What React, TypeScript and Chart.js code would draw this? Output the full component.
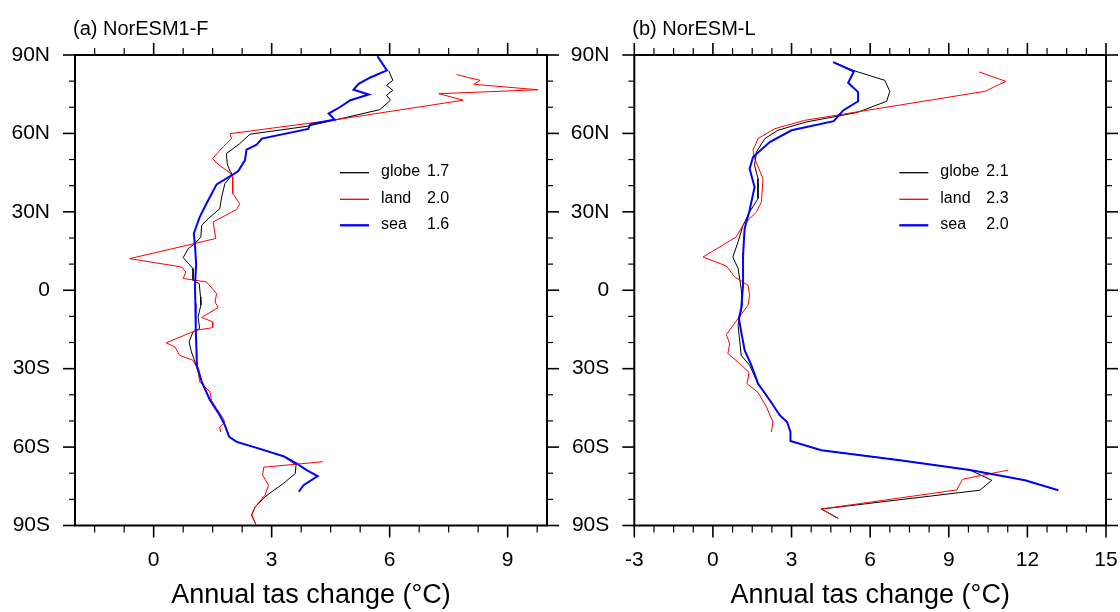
import React, { useEffect, useRef } from "react";
import { Chart, registerables } from "chart.js";

Chart.register(...registerables);

const FONT = "'Liberation Sans', Arial, Helvetica, sans-serif";

// ---------- axis ticks / labels ----------
const latTickValues = [-90, -60, -30, 0, 30, 60, 90];
const latTickLabels = ["90S", "60S", "30S", "0", "30N", "60N", "90N"];
const aXTicks = [0, 3, 6, 9];
const bXTicks = [-3, 0, 3, 6, 9, 12, 15];
const xTitle = "Annual tas change (°C)";

// ---------- legend ----------
const seriesNames = ["globe", "land", "sea"];
const seriesColors = ["#000000", "#ff0000", "#0000ff"];
const seriesWidths = [1, 1, 2];
const aMeans = ["1.7", "2.0", "1.6"];
const bMeans = ["2.1", "2.3", "2.0"];

// ---------- (a) NorESM1-F ----------
const aGlobeLat = [83.9, 80.3, 78.4, 76.5, 74.6, 72.7, 69.1, 65.3, 62.7, 59.7, 56.1, 52.3, 48.4, 45.6, 44.2, 40.8, 35.7, 31.2, 27.4, 24.9, 20.4, 17.9, 15.9, 12.5, 8.3, 3.8, 2.5, -2.5, -5.7, -10.2, -14.7, -15.9, -19.8, -23.6, -27.4, -32, -35, -42, -47.8, -51.6, -56.1, -58, -60.3, -63.5, -66.9, -70.1, -73.9, -79, -82.9, -86, -89.6];
const aGlobeVal = [5.98, 6.08, 5.92, 6.08, 5.92, 6.02, 5.75, 4.66, 3.89, 2.45, 2.19, 1.85, 1.87, 1.94, 2.0, 1.81, 1.73, 1.68, 1.39, 1.22, 1.2, 1.05, 0.88, 0.75, 1.0, 1.0, 1.16, 1.19, 1.2, 1.13, 1.17, 1.0, 0.9, 0.96, 1.05, 1.15, 1.22, 1.43, 1.68, 1.81, 1.92, 2.11, 2.62, 3.3, 3.62, 3.6, 3.3, 2.83, 2.58, 2.49, 2.6];

const aLandLat = [82.5, 80.3, 78.8, 76.7, 75.2, 72.7, 65.3, 59.9, 58.0, 53.5, 50.4, 48.4, 44.9, 43.3, 37.0, 33.1, 30.9, 26.1, 19.8, 17.9, 12.1, 8.9, 7.0, 4.5, 3.2, -1.3, -4.5, -6.6, -10.4, -12.1, -14.3, -15.3, -20.1, -21.7, -24.9, -26.8, -29.3, -31.2, -35.1, -36.3, -38.9, -42.1, -45.2, -49.1, -50.6, -52.3, -54.2, -60, -65.6, -67.7, -70.7, -74.6, -78.4, -82.9, -86, -89.6];
const aLandVal = [7.7, 8.3, 8.14, 9.77, 7.25, 7.87, 4.66, 1.94, 1.98, 1.68, 1.5, 1.62, 1.94, 2.01, 2.01, 2.19, 2.11, 1.51, 1.58, 1.05, -0.61, 0.71, 0.82, 0.75, 1.34, 1.6, 1.56, 1.64, 1.22, 1.5, 1.5, 1.09, 0.32, 0.54, 0.66, 1.0, 1.09, 1.13, 1.17, 1.26, 1.43, 1.47, 1.6, 1.77, 1.81, 1.68, 1.7, null, 4.3, 2.8, 2.77, 2.92, 2.83, 2.58, 2.49, 2.6];

const aSeaLat = [89.5, 84.1, 81.4, 79.0, 76.7, 74.9, 72.7, 70.1, 67.6, 65.3, 63.5, 61.7, 58.0, 55.7, 53.8, 49.7, 45.6, 44.2, 40.5, 33.1, 28.0, 21.7, 17.2, 10, 1.9, -5, -14.7, -28.7, -35, -42, -47.8, -51.6, -56.1, -58, -60.3, -63.5, -66.3, -68.8, -71.1, -74.6, -77.1];
const aSeaVal = [5.69, 5.93, 5.51, 5.21, 5.08, 5.47, 5.0, 4.74, 4.45, 4.6, 3.98, 3.93, 2.75, 2.62, 2.36, 2.32, 2.15, 2.01, 1.6, 1.34, 1.17, 1.02, 1.05, 1.08, 1.05, 1.06, 1.07, 1.1, 1.22, 1.43, 1.68, 1.81, 1.92, 2.11, 2.62, 3.3, 3.64, 3.89, 4.17, 3.81, 3.69];

// ---------- (b) NorESM-L ----------
const bGlobeLat = [87.3, 84.1, 80.3, 76.1, 72.3, 68.0, 64.4, 61.2, 58.0, 52.9, 47.8, 42.7, 35.1, 29.9, 24.9, 18.5, 12.7, 8.3, 0.6, -5.7, -13.4, -24.9, -28.7, -35.7, -42.1, -47.8, -50.4, -54.2, -57.7, -61.2, -65.0, -68.8, -72.7, -76.5, -83.7, -87.3];
const bGlobeVal = [4.59, 5.35, 6.56, 6.75, 6.63, 5.5, 3.57, 2.48, 1.98, 1.66, 1.59, 1.72, 1.72, 1.4, 1.15, 0.96, 0.76, 0.96, 1.08, 1.12, 0.96, 1.08, 1.4, 1.72, 2.17, 2.55, 2.83, 2.96, 2.96, 4.14, 7.13, 9.81, 10.64, 10.19, 4.14, 4.78];

const bLandLat = [83.5, 79.9, 76.1, 65.0, 61.8, 58.0, 53.5, 50.4, 42.7, 33.8, 29.9, 24.9, 20.4, 12.7, 9.3, 5.1, 1.9, -1.9, -5.7, -10.8, -17.0, -20.4, -24.2, -28.0, -31.5, -35.7, -39.1, -44.6, -50.4, -54.2, -60, -68.8, -72.3, -76.4, -83.7, -87.3];
const bLandVal = [10.16, 11.18, 10.38, 3.5, 2.36, 1.72, 1.53, 1.59, 1.91, 1.85, 1.66, 1.15, 0.89, -0.38, 0.51, 0.83, 1.34, 1.4, 1.34, 0.96, 0.51, 0.64, 0.57, 1.02, 1.38, 1.3, 1.72, 2.04, 2.29, 2.23, null, 11.27, 9.53, 9.3, 4.14, 4.78];

const bSeaLat = [87.3, 83.7, 79.4, 75.8, 72.3, 68.8, 64.7, 61.2, 56.7, 51.0, 46.5, 39.5, 30.6, 23.6, 13.4, 1.9, -7.0, -10.8, -15.9, -22.9, -28.7, -35.7, -42.1, -47.8, -50.4, -54.2, -57.7, -61.2, -65.0, -68.8, -72.7, -76.5];
const bSeaVal = [4.59, 5.38, 5.16, 5.54, 5.54, 4.97, 4.61, 3.0, 2.17, 1.53, 1.4, 1.59, 1.4, 1.21, 1.15, 1.15, 1.08, 0.99, 1.08, 1.21, 1.47, 1.72, 2.17, 2.55, 2.83, 2.96, 2.96, 4.14, 7.13, 9.81, 11.91, 13.18];

type PanelCfg = {
  title: string;
  xMin: number;
  xMax: number;
  xTicks: number[];
  means: string[];
  series: { lat: number[]; val: (number | null)[] }[];
  left: number;
  yWidth: number;
  padRight: number;
};

const W = 560;
const H = 612;
const PLOT_TOP = 55;
const PLOT_BOTTOM = 525.5;

const toPoints = (lat: number[], val: (number | null)[]) =>
  lat.map((y, i) => ({ x: val[i], y }));

const decorPlugin = {
  id: "decor",
  afterDraw(chart: any, _args: any, opts: any) {
    const { ctx, chartArea: a, scales } = chart;
    const xs = scales.x;
    const ys = scales.y;
    ctx.save();
    ctx.strokeStyle = "#000";
    ctx.lineCap = "butt";
    // tick marks (outward) on all four sides
    const tick = (x1: number, y1: number, x2: number, y2: number, w: number) => {
      ctx.lineWidth = w;
      ctx.beginPath();
      ctx.moveTo(x1, y1);
      ctx.lineTo(x2, y2);
      ctx.stroke();
    };
    const MAJ = 12;
    const MINX = 7;
    const MINY = 6;
    for (let k = Math.ceil(opts.xMin / 0.75); k * 0.75 <= opts.xMax + 1e-9; k++) {
      const v = k * 0.75;
      const isMajor = Math.abs(v / 3 - Math.round(v / 3)) < 1e-6;
      const px = xs.getPixelForValue(v);
      const len = isMajor ? MAJ : MINX;
      tick(px, a.bottom, px, a.bottom + len, isMajor ? 1.6 : 1.2);
      tick(px, a.top, px, a.top - len, isMajor ? 1.6 : 1.2);
    }
    for (let v = -90; v <= 90; v += 10) {
      const isMajor = v % 30 === 0;
      const py = ys.getPixelForValue(v);
      const len = isMajor ? MAJ : MINY;
      tick(a.left, py, a.left - len, py, isMajor ? 1.6 : 1.2);
      tick(a.right, py, a.right + len, py, isMajor ? 1.6 : 1.2);
    }
    // frame
    ctx.lineWidth = 2;
    ctx.strokeRect(a.left, a.top, a.right - a.left, a.bottom - a.top);

    // panel title
    ctx.fillStyle = "#000";
    ctx.font = `20px ${FONT}`;
    ctx.textAlign = "left";
    ctx.textBaseline = "alphabetic";
    ctx.fillText(opts.title, a.left - 2, 35);

    // legend
    const lx = a.left + 265;
    const rows = [117.7, 144.3, 170.3];
    ctx.font = `16px ${FONT}`;
    ctx.textBaseline = "middle";
    for (let i = 0; i < seriesNames.length; i++) {
      const yy = a.top + rows[i];
      ctx.strokeStyle = seriesColors[i];
      ctx.lineWidth = seriesWidths[i] + 0.3;
      ctx.beginPath();
      ctx.moveTo(lx, yy);
      ctx.lineTo(lx + 29, yy);
      ctx.stroke();
      ctx.fillStyle = "#000";
      ctx.fillText(seriesNames[i], lx + 41, yy - 1);
      ctx.fillText(opts.means[i], lx + 87, yy - 1);
    }
    ctx.restore();
  },
};

function Panel({ cfg }: { cfg: PanelCfg }) {
  const ref = useRef<HTMLCanvasElement | null>(null);
  useEffect(() => {
    if (!ref.current) return;
    const order = [2, 1, 0];
    const chart = new Chart(ref.current, {
      type: "scatter",
      data: {
        datasets: cfg.series.map((s, i) => ({
          label: seriesNames[i],
          data: toPoints(s.lat, s.val) as any,
          showLine: true,
          borderColor: seriesColors[i],
          backgroundColor: seriesColors[i],
          borderWidth: seriesWidths[i],
          pointRadius: 0,
          tension: 0,
          spanGaps: false,
          order: order[i],
        })),
      },
      options: {
        animation: false,
        responsive: false,
        events: [],
        layout: { padding: { left: 0, right: cfg.padRight, top: PLOT_TOP, bottom: 0 } },
        plugins: {
          legend: { display: false },
          tooltip: { enabled: false },
          title: { display: false },
          decor: { title: cfg.title, means: cfg.means, xMin: cfg.xMin, xMax: cfg.xMax },
        } as any,
        scales: {
          x: {
            type: "linear",
            position: "bottom",
            min: cfg.xMin,
            max: cfg.xMax,
            grid: { display: false, drawTicks: false },
            border: { display: false },
            afterBuildTicks: (s: any) => {
              s.ticks = cfg.xTicks.map((v) => ({ value: v }));
            },
            afterFit: (s: any) => {
              s.height = H - PLOT_BOTTOM;
              s.paddingLeft = 0;
              s.paddingRight = 0;
            },
            ticks: {
              autoSkip: false,
              maxRotation: 0,
              minRotation: 0,
              padding: 22,
              color: "#000",
              font: { family: FONT, size: 21 },
              callback: (v: any) => String(v),
            },
            title: {
              display: true,
              text: xTitle,
              color: "#000",
              font: { family: FONT, size: 27 },
              padding: { top: 0, bottom: 0 },
            },
          },
          y: {
            type: "linear",
            position: "left",
            min: -90,
            max: 90,
            grid: { display: false, drawTicks: false },
            border: { display: false },
            afterBuildTicks: (s: any) => {
              s.ticks = latTickValues.map((v) => ({ value: v }));
            },
            afterFit: (s: any) => {
              s.width = cfg.yWidth;
              s.paddingTop = 0;
              s.paddingBottom = 0;
            },
            ticks: {
              autoSkip: false,
              padding: 25,
              color: "#000",
              font: { family: FONT, size: 21 },
              callback: (v: any) => {
                const i = latTickValues.indexOf(Number(v));
                return i >= 0 ? latTickLabels[i] : "";
              },
            },
          },
        },
      },
      plugins: [decorPlugin],
    } as any);
    return () => chart.destroy();
  }, [cfg]);
  return (
    <canvas
      ref={ref}
      width={W}
      height={H}
      style={{ position: "absolute", left: cfg.left, top: 0, width: W, height: H }}
    />
  );
}

const panelA: PanelCfg = {
  title: "(a) NorESM1-F",
  xMin: -2,
  xMax: 10,
  xTicks: aXTicks,
  means: aMeans,
  series: [
    { lat: aGlobeLat, val: aGlobeVal },
    { lat: aLandLat, val: aLandVal },
    { lat: aSeaLat, val: aSeaVal },
  ],
  left: 0,
  yWidth: 75,
  padRight: 13,
};

const panelB: PanelCfg = {
  title: "(b) NorESM-L",
  xMin: -3,
  xMax: 15,
  xTicks: bXTicks,
  means: bMeans,
  series: [
    { lat: bGlobeLat, val: bGlobeVal },
    { lat: bLandLat, val: bLandVal },
    { lat: bSeaLat, val: bSeaVal },
  ],
  left: 560,
  yWidth: 74.3,
  padRight: 14,
};

export default function App() {
  return (
    <div
      style={{
        position: "absolute",
        left: 0,
        top: 0,
        width: 1120,
        height: 612,
        background: "#fff",
        overflow: "hidden",
      }}
    >
      <Panel cfg={panelA} />
      <Panel cfg={panelB} />
    </div>
  );
}
